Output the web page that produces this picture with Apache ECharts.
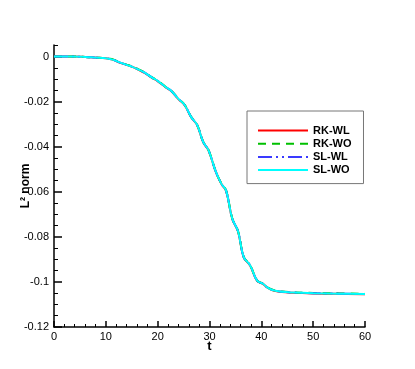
<!DOCTYPE html>
<html>
<head>
    <meta charset="utf-8" />
    <title>L2 norm</title>
    <script src="https://cdn.jsdelivr.net/npm/echarts@6/dist/echarts.min.js"></script>
    <style>
        html, body { margin: 0; padding: 0; background: #fff; }
        #main { width: 415px; height: 369px; }
    </style>
</head>
<body>
    <div id="main"></div>
    <script type="text/javascript">
        // time samples
        var tVals = [0, 3, 6, 8, 10, 11.5, 12.5, 14, 15, 16.5, 17.5, 19, 20, 21.5, 22.5, 24, 25.2, 26.5, 27.6, 28.8, 29.8,
            31.2, 32.3, 33.2, 34.4, 35.5, 36.6, 37.8, 39.2, 40.3, 41.2, 42.3, 44, 46, 50, 55, 60];
        var rkWL = [0, 0, -0.0002, -0.0005, -0.0008, -0.0015, -0.0026, -0.0037, -0.0045, -0.0061, -0.0073, -0.0096, -0.0109,
            -0.0136, -0.0151, -0.0189, -0.0216, -0.0271, -0.0304, -0.0381, -0.0416, -0.0511, -0.0566, -0.0596, -0.0721,
            -0.0776, -0.0891, -0.0926, -0.0996, -0.1009, -0.1026, -0.1038, -0.1045, -0.1048, -0.1051, -0.1053, -0.1055];
        var rkWO = [0, 0, -0.0002, -0.0005, -0.0008, -0.0014, -0.0025, -0.0036, -0.0044, -0.0059, -0.0071, -0.0094, -0.0107,
            -0.0134, -0.0149, -0.0187, -0.0214, -0.0269, -0.0302, -0.0379, -0.0414, -0.0509, -0.0564, -0.0594, -0.0719,
            -0.0774, -0.0889, -0.0924, -0.0994, -0.1007, -0.1024, -0.1036, -0.1043, -0.1046, -0.1049, -0.1051, -0.1053];
        var slWL = [0, 0, -0.0002, -0.0005, -0.0008, -0.0015, -0.0025, -0.0037, -0.0045, -0.0060, -0.0072, -0.0095, -0.0108,
            -0.0135, -0.0150, -0.0188, -0.0215, -0.0270, -0.0303, -0.0380, -0.0415, -0.0510, -0.0565, -0.0595, -0.0720,
            -0.0775, -0.0890, -0.0925, -0.0995, -0.1008, -0.1025, -0.1037, -0.1044, -0.1047, -0.1050, -0.1052, -0.1054];
        var slWO = [0, 0, -0.0002, -0.0005, -0.0008, -0.0015, -0.0025, -0.0037, -0.0045, -0.0060, -0.0072, -0.0095, -0.0108,
            -0.0135, -0.0150, -0.0188, -0.0215, -0.0270, -0.0303, -0.0380, -0.0415, -0.0510, -0.0565, -0.0595, -0.0720,
            -0.0775, -0.0890, -0.0925, -0.0995, -0.1008, -0.1025, -0.1037, -0.1044, -0.1047, -0.1050, -0.1052, -0.1054];
        var seriesNames = ['RK-WL', 'RK-WO', 'SL-WL', 'SL-WO'];
        var yTickVals = [-0.12, -0.1, -0.08, -0.06, -0.04, -0.02, 0];

        function pairs(ys) {
            var out = [];
            for (var i = 0; i < tVals.length; i++) {
                out.push([tVals[i], ys[i]]);
            }
            return out;
        }

        var font = 'Liberation Sans, Arial, sans-serif';
        var myChart = echarts.init(document.getElementById('main'));

        var option = {
            animation: false,
            backgroundColor: '#fff',
            grid: {
                left: 54,
                right: 50,
                top: 45,
                bottom: 42
            },
            legend: {
                orient: 'vertical',
                left: 247,
                top: 111,
                padding: [14, 12, 8, 10],
                borderColor: '#777',
                borderWidth: 1,
                itemWidth: 50,
                itemHeight: 10,
                itemGap: 2.2,
                itemStyle: { opacity: 0 },
                textStyle: { fontFamily: font, fontWeight: 'bold', fontSize: 11, lineHeight: 10, color: '#000' },
                data: seriesNames
            },
            xAxis: {
                type: 'value',
                min: 0,
                max: 60,
                interval: 10,
                name: 't',
                nameLocation: 'middle',
                nameGap: 13,
                nameMoveOverlap: false,
                nameTextStyle: { fontFamily: font, fontWeight: 'bold', fontSize: 13, color: '#000' },
                axisLine: { onZero: false, lineStyle: { color: '#000', width: 1.5 } },
                axisTick: { inside: true, length: 6, lineStyle: { color: '#000', width: 1.5 } },
                minorTick: { show: true, splitNumber: 5, length: 3, lineStyle: { color: '#000', width: 1 } },
                axisLabel: { margin: 4, fontFamily: font, fontSize: 11, color: '#000' },
                splitLine: { show: false }
            },
            yAxis: {
                type: 'value',
                min: -0.12,
                max: 0.0051,
                interval: 0.02,
                name: 'L² norm',
                nameLocation: 'middle',
                nameGap: 22,
                nameMoveOverlap: false,
                nameTextStyle: { fontFamily: font, fontWeight: 'bold', fontSize: 12, color: '#000' },
                axisLine: { onZero: false, lineStyle: { color: '#000', width: 1.5 } },
                axisTick: { inside: true, length: 8, customValues: yTickVals, lineStyle: { color: '#000', width: 1.5 } },
                minorTick: { show: true, splitNumber: 4, length: 4, lineStyle: { color: '#000', width: 1 } },
                axisLabel: {
                    margin: 5,
                    fontFamily: font,
                    fontSize: 11,
                    color: '#000',
                    customValues: yTickVals,
                    formatter: function (v) { return String(+v.toFixed(3)); }
                },
                splitLine: { show: false }
            },
            series: [
                {
                    name: seriesNames[0], type: 'line', smooth: 0.4, symbol: 'none',
                    lineStyle: { color: '#ff0000', width: 2 }, itemStyle: { color: '#ff0000' },
                    data: pairs(rkWL)
                },
                {
                    name: seriesNames[1], type: 'line', smooth: 0.4, symbol: 'none',
                    lineStyle: { color: '#00c000', width: 2, type: [8, 6] }, itemStyle: { color: '#00c000' },
                    data: pairs(rkWO)
                },
                {
                    name: seriesNames[2], type: 'line', smooth: 0.4, symbol: 'none',
                    lineStyle: { color: '#3a3aff', width: 2, type: [14, 4, 2, 4, 2, 4] }, itemStyle: { color: '#3a3aff' },
                    data: pairs(slWL)
                },
                {
                    name: seriesNames[3], type: 'line', smooth: 0.4, symbol: 'none',
                    lineStyle: { color: '#00ffff', width: 2 }, itemStyle: { color: '#00ffff' },
                    data: pairs(slWO)
                }
            ]
        };

        myChart.setOption(option);
    </script>
</body>
</html>
